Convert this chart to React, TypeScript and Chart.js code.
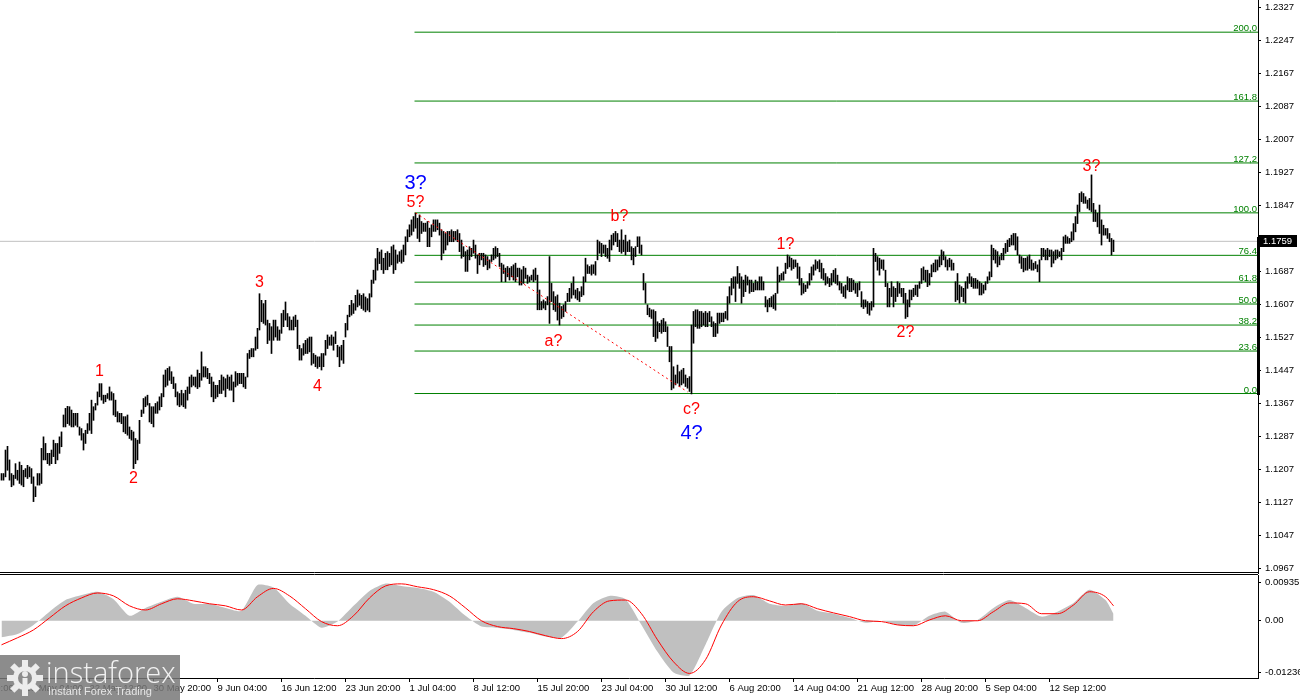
import React, { useEffect, useRef } from "react";
import { Chart, registerables } from "chart.js";
Chart.register(...registerables);

// ---------- DATA ----------
const highs = [
1.1196,1.1196,1.1253,1.1262,1.1229,1.1196,1.1192,1.1220,1.1204,1.1224,
1.1216,1.1204,1.1208,1.1216,1.1212,1.1208,1.1188,1.1164,1.1196,1.1196,
1.1257,1.1285,1.1269,1.1245,1.1245,1.1253,1.1277,1.1269,1.1269,1.1285,
1.1297,1.1338,1.1354,1.1359,1.1358,1.1350,1.1342,1.1342,1.1342,1.1309,
1.1305,1.1293,1.1301,1.1317,1.1342,1.1374,1.1358,1.1366,1.1394,1.1414,
1.1414,1.1386,1.1386,1.1390,1.1406,1.1394,1.1390,1.1374,1.1346,1.1342,
1.1342,1.1334,1.1334,1.1338,1.1309,1.1301,1.1297,1.1281,1.1277,1.1325,
1.1350,1.1378,1.1382,1.1386,1.1366,1.1358,1.1358,1.1366,1.1370,1.1382,
1.1390,1.1435,1.1447,1.1451,1.1455,1.1443,1.1430,1.1414,1.1394,1.1390,
1.1398,1.1390,1.1398,1.1406,1.1430,1.1435,1.1430,1.1430,1.1447,1.1439,
1.1491,1.1455,1.1455,1.1451,1.1439,1.1430,1.1418,1.1410,1.1410,1.1422,
1.1435,1.1430,1.1426,1.1435,1.1430,1.1435,1.1418,1.1443,1.1439,1.1439,
1.1439,1.1439,1.1430,1.1487,1.1495,1.1499,1.1499,1.1527,1.1548,1.1632,
1.1616,1.1608,1.1616,1.1568,1.1560,1.1552,1.1568,1.1568,1.1552,1.1544,
1.1584,1.1592,1.1612,1.1584,1.1576,1.1568,1.1576,1.1580,1.1568,1.1507,
1.1499,1.1511,1.1519,1.1523,1.1527,1.1527,1.1487,1.1483,1.1479,1.1479,
1.1487,1.1487,1.1519,1.1532,1.1527,1.1532,1.1527,1.1540,1.1507,1.1503,
1.1507,1.1519,1.1560,1.1580,1.1604,1.1616,1.1608,1.1628,1.1641,1.1632,
1.1628,1.1632,1.1624,1.1620,1.1632,1.1665,1.1689,1.1717,1.1742,1.1733,
1.1738,1.1718,1.1730,1.1734,1.1730,1.1746,1.1750,1.1738,1.1726,1.1734,
1.1738,1.1750,1.1770,1.1787,1.1799,1.1811,1.1819,1.1827,1.1815,1.1823,
1.1807,1.1803,1.1803,1.1807,1.1791,1.1799,1.1811,1.1811,1.1811,1.1803,
1.1787,1.1783,1.1778,1.1783,1.1783,1.1787,1.1783,1.1783,1.1787,1.1778,
1.1762,1.1746,1.1734,1.1738,1.1746,1.1742,1.1762,1.1750,1.1726,1.1730,
1.1730,1.1730,1.1726,1.1722,1.1714,1.1726,1.1742,1.1746,1.1742,1.1730,
1.1706,1.1702,1.1694,1.1698,1.1694,1.1698,1.1702,1.1706,1.1694,1.1694,
1.1690,1.1698,1.1694,1.1677,1.1673,1.1677,1.1690,1.1694,1.1677,1.1641,
1.1613,1.1617,1.1613,1.1625,1.1722,1.1657,1.1637,1.1625,1.1629,1.1609,
1.1601,1.1605,1.1613,1.1633,1.1645,1.1657,1.1673,1.1641,1.1645,1.1637,
1.1649,1.1673,1.1718,1.1702,1.1698,1.1702,1.1702,1.1710,1.1762,1.1758,
1.1754,1.1750,1.1750,1.1742,1.1762,1.1774,1.1778,1.1783,1.1778,1.1762,
1.1787,1.1762,1.1774,1.1758,1.1762,1.1746,1.1742,1.1746,1.1770,1.1770,
1.1750,1.1681,1.1657,1.1605,1.1597,1.1593,1.1593,1.1589,1.1564,1.1560,
1.1568,1.1572,1.1564,1.1552,1.1504,1.1504,1.1455,1.1435,1.1459,1.1443,
1.1447,1.1451,1.1435,1.1427,1.1431,1.1556,1.1589,1.1593,1.1593,1.1589,
1.1589,1.1585,1.1589,1.1585,1.1589,1.1576,1.1564,1.1560,1.1585,1.1585,
1.1585,1.1585,1.1589,1.1625,1.1649,1.1669,1.1673,1.1673,1.1698,1.1681,
1.1673,1.1665,1.1677,1.1673,1.1665,1.1665,1.1657,1.1665,1.1661,1.1673,
1.1673,1.1661,1.1625,1.1617,1.1621,1.1625,1.1629,1.1633,1.1697,1.1677,
1.1681,1.1685,1.1706,1.1726,1.1722,1.1718,1.1714,1.1714,1.1706,1.1697,
1.1669,1.1657,1.1653,1.1661,1.1681,1.1697,1.1702,1.1714,1.1710,1.1714,
1.1706,1.1693,1.1681,1.1673,1.1669,1.1681,1.1689,1.1693,1.1677,1.1661,
1.1657,1.1649,1.1653,1.1673,1.1669,1.1669,1.1665,1.1657,1.1657,1.1661,
1.1637,1.1617,1.1617,1.1613,1.1609,1.1613,1.1742,1.1730,1.1722,1.1718,
1.1714,1.1714,1.1689,1.1657,1.1645,1.1661,1.1649,1.1645,1.1661,1.1657,
1.1645,1.1645,1.1633,1.1617,1.1641,1.1641,1.1645,1.1653,1.1653,1.1661,
1.1693,1.1697,1.1689,1.1689,1.1681,1.1702,1.1706,1.1714,1.1714,1.1722,
1.1738,1.1734,1.1722,1.1714,1.1718,1.1714,1.1706,1.1661,1.1681,1.1653,
1.1649,1.1645,1.1661,1.1673,1.1681,1.1673,1.1669,1.1669,1.1665,1.1661,
1.1657,1.1653,1.1661,1.1673,1.1685,1.1750,1.1742,1.1738,1.1734,1.1722,
1.1730,1.1742,1.1754,1.1762,1.1766,1.1774,1.1778,1.1778,1.1770,1.1726,
1.1722,1.1718,1.1718,1.1722,1.1726,1.1714,1.1706,1.1710,1.1702,1.1714,
1.1742,1.1742,1.1738,1.1742,1.1738,1.1738,1.1734,1.1738,1.1738,1.1734,
1.1742,1.1770,1.1774,1.1770,1.1766,1.1782,1.1802,1.1819,1.1847,1.1875,
1.1879,1.1875,1.1867,1.1859,1.1863,1.1920,1.1851,1.1835,1.1827,1.1847,
1.1811,1.1798,1.1790,1.1790,1.1778,1.1766,1.1762
];

const lows = [
1.1180,1.1180,1.1188,1.1204,1.1180,1.1164,1.1168,1.1184,1.1180,1.1172,
1.1168,1.1164,1.1188,1.1184,1.1188,1.1172,1.1128,1.1140,1.1168,1.1168,
1.1172,1.1229,1.1229,1.1220,1.1216,1.1220,1.1237,1.1220,1.1229,1.1245,
1.1261,1.1309,1.1309,1.1317,1.1313,1.1309,1.1309,1.1313,1.1309,1.1289,
1.1277,1.1253,1.1269,1.1293,1.1301,1.1293,1.1325,1.1350,1.1362,1.1382,
1.1374,1.1366,1.1370,1.1378,1.1374,1.1374,1.1338,1.1334,1.1321,1.1321,
1.1317,1.1297,1.1293,1.1289,1.1281,1.1277,1.1208,1.1220,1.1229,1.1269,
1.1334,1.1342,1.1358,1.1362,1.1321,1.1317,1.1309,1.1342,1.1342,1.1350,
1.1358,1.1382,1.1406,1.1410,1.1422,1.1414,1.1402,1.1382,1.1362,1.1358,
1.1362,1.1358,1.1354,1.1374,1.1390,1.1406,1.1410,1.1406,1.1402,1.1406,
1.1422,1.1430,1.1430,1.1426,1.1414,1.1382,1.1370,1.1378,1.1382,1.1390,
1.1390,1.1398,1.1382,1.1402,1.1398,1.1398,1.1370,1.1406,1.1410,1.1414,
1.1414,1.1406,1.1402,1.1430,1.1475,1.1479,1.1479,1.1495,1.1499,1.1544,
1.1564,1.1560,1.1556,1.1511,1.1519,1.1487,1.1519,1.1527,1.1519,1.1519,
1.1536,1.1552,1.1568,1.1552,1.1544,1.1544,1.1544,1.1552,1.1499,1.1471,
1.1471,1.1483,1.1487,1.1487,1.1491,1.1459,1.1463,1.1455,1.1451,1.1455,
1.1447,1.1455,1.1483,1.1499,1.1507,1.1507,1.1495,1.1511,1.1479,1.1455,
1.1471,1.1463,1.1527,1.1544,1.1576,1.1580,1.1584,1.1592,1.1600,1.1604,
1.1596,1.1592,1.1588,1.1592,1.1588,1.1624,1.1657,1.1665,1.1689,1.1705,
1.1690,1.1681,1.1690,1.1690,1.1698,1.1702,1.1681,1.1690,1.1706,1.1710,
1.1706,1.1710,1.1726,1.1758,1.1770,1.1774,1.1783,1.1791,1.1766,1.1758,
1.1778,1.1783,1.1783,1.1746,1.1746,1.1770,1.1783,1.1783,1.1787,1.1774,
1.1714,1.1730,1.1738,1.1750,1.1758,1.1758,1.1758,1.1762,1.1758,1.1734,
1.1718,1.1722,1.1686,1.1686,1.1714,1.1722,1.1730,1.1718,1.1681,1.1702,
1.1714,1.1698,1.1702,1.1690,1.1694,1.1710,1.1714,1.1718,1.1722,1.1698,
1.1661,1.1681,1.1661,1.1673,1.1665,1.1673,1.1665,1.1661,1.1673,1.1653,
1.1653,1.1657,1.1669,1.1657,1.1661,1.1665,1.1661,1.1665,1.1593,1.1593,
1.1593,1.1597,1.1593,1.1605,1.1560,1.1613,1.1593,1.1589,1.1568,1.1556,
1.1572,1.1576,1.1589,1.1613,1.1613,1.1621,1.1629,1.1621,1.1617,1.1613,
1.1625,1.1629,1.1661,1.1681,1.1681,1.1677,1.1681,1.1677,1.1714,1.1730,
1.1722,1.1730,1.1722,1.1718,1.1710,1.1738,1.1750,1.1758,1.1746,1.1734,
1.1730,1.1734,1.1726,1.1734,1.1734,1.1714,1.1702,1.1722,1.1746,1.1730,
1.1726,1.1641,1.1609,1.1581,1.1576,1.1572,1.1528,1.1516,1.1524,1.1540,
1.1536,1.1540,1.1540,1.1504,1.1467,1.1399,1.1403,1.1411,1.1415,1.1407,
1.1411,1.1415,1.1407,1.1403,1.1395,1.1389,1.1512,1.1552,1.1548,1.1548,
1.1552,1.1556,1.1552,1.1552,1.1564,1.1552,1.1528,1.1528,1.1536,1.1560,
1.1564,1.1564,1.1572,1.1568,1.1609,1.1629,1.1645,1.1613,1.1657,1.1645,
1.1609,1.1625,1.1637,1.1653,1.1633,1.1637,1.1637,1.1641,1.1641,1.1641,
1.1641,1.1641,1.1600,1.1588,1.1600,1.1600,1.1596,1.1592,1.1633,1.1661,
1.1665,1.1665,1.1681,1.1693,1.1697,1.1689,1.1693,1.1697,1.1669,1.1653,
1.1629,1.1633,1.1637,1.1645,1.1653,1.1665,1.1677,1.1689,1.1693,1.1685,
1.1669,1.1665,1.1653,1.1657,1.1649,1.1653,1.1661,1.1657,1.1653,1.1641,
1.1633,1.1625,1.1621,1.1641,1.1637,1.1637,1.1641,1.1633,1.1625,1.1641,
1.1600,1.1596,1.1600,1.1584,1.1580,1.1592,1.1600,1.1710,1.1689,1.1677,
1.1693,1.1689,1.1649,1.1600,1.1600,1.1625,1.1600,1.1613,1.1625,1.1633,
1.1625,1.1609,1.1572,1.1576,1.1600,1.1617,1.1625,1.1629,1.1625,1.1645,
1.1657,1.1665,1.1661,1.1649,1.1653,1.1673,1.1685,1.1685,1.1689,1.1697,
1.1702,1.1714,1.1697,1.1689,1.1697,1.1689,1.1689,1.1613,1.1617,1.1609,
1.1625,1.1613,1.1609,1.1645,1.1657,1.1649,1.1645,1.1645,1.1645,1.1629,
1.1629,1.1633,1.1641,1.1657,1.1665,1.1673,1.1714,1.1706,1.1697,1.1702,
1.1714,1.1714,1.1730,1.1734,1.1746,1.1750,1.1750,1.1738,1.1726,1.1706,
1.1693,1.1685,1.1689,1.1689,1.1693,1.1689,1.1689,1.1693,1.1685,1.1661,
1.1714,1.1722,1.1714,1.1714,1.1722,1.1697,1.1706,1.1714,1.1718,1.1722,
1.1714,1.1734,1.1754,1.1754,1.1754,1.1758,1.1762,1.1782,1.1802,1.1831,
1.1855,1.1851,1.1851,1.1839,1.1835,1.1831,1.1807,1.1807,1.1794,1.1778,
1.1750,1.1774,1.1774,1.1766,1.1758,1.1726,1.1734
];

const lastPrice = 1.1759;
const lastPriceLabel = "1.1759";

const priceTicks = [1.2327, 1.2247, 1.2167, 1.2087, 1.2007, 1.1927, 1.1847, 1.1767, 1.1687,
  1.1607, 1.1527, 1.1447, 1.1367, 1.1287, 1.1207, 1.1127, 1.1047, 1.0967];

const fibLabels = ["0.0", "23.6", "38.2", "50.0", "61.8", "76.4", "100.0", "127,2", "161.8", "200,0"];
const fibPrices = [1.1390, 1.1493, 1.1556, 1.1607, 1.1660, 1.1725, 1.1828, 1.1949, 1.2099, 1.2266];
const fibStartBar = 206.5;

const dashBars = [207, 343];
const dashPrices = [1.1828, 1.1394];

const waveTexts = ["1", "2", "3", "4", "5?", "3?", "a?", "b?", "c?", "4?", "1?", "2?", "3?"];
const waveBars = [49, 66, 129, 158, 207, 207, 276, 309, 345, 345, 392, 452, 545];
const wavePrices = [1.1442, 1.1183, 1.1658, 1.1406, 1.1852, 1.1898, 1.1517, 1.1818, 1.1352, 1.1292, 1.1750, 1.1537, 1.1939];
const waveMajor = [false, false, false, false, false, true, false, false, false, true, false, false, false];

const dateLabels = ["7 May 20:00", "15 May 04:00", "22 May 12:00", "30 May 20:00", "9 Jun 04:00",
  "16 Jun 12:00", "23 Jun 20:00", "1 Jul 04:00", "8 Jul 12:00", "15 Jul 20:00", "23 Jul 04:00",
  "30 Jul 12:00", "6 Aug 20:00", "14 Aug 04:00", "21 Aug 12:00", "28 Aug 20:00", "5 Sep 04:00", "12 Sep 12:00"];
const dateBars = [-20, 12, 44, 76, 108, 140, 172, 204, 236, 268, 300, 332, 364, 396, 428, 460, 492, 524];

const macdBars = [0,8,16,24,32,40,48,56,64,72,80,88,96,104,112,120,128,136,144,152,160,168,176,184,192,200,
  208,216,224,232,240,248,256,264,272,280,288,296,304,312,320,328,336,344,352,360,368,376,384,392,400,408,
  416,424,432,440,448,456,464,472,480,488,496,504,512,520,528,536,544,552,556];
const macdHist = [
-0.0040,-0.0032,-0.0010,0.0022,0.0050,0.0062,0.0070,0.0052,0.0012,0.0031,
0.0046,0.0058,0.0041,0.0041,0.0031,0.0024,0.0086,0.0080,0.0041,0.0012,
-0.0017,-0.0002,0.0036,0.0072,0.0090,0.0084,0.0079,0.0070,0.0046,0.0012,
-0.0014,-0.0017,-0.0022,-0.0029,-0.0038,-0.0041,-0.0002,0.0043,0.0060,0.0052,
-0.0010,-0.0075,-0.0125,-0.0132,-0.0058,0.0022,0.0055,0.0062,0.0041,0.0036,
0.0043,0.0024,0.0017,0.0007,-0.0005,0.0000,-0.0010,-0.0012,0.0012,0.0022,
-0.0005,0.0002,0.0031,0.0050,0.0031,0.0010,0.0022,0.0043,0.0075,0.0050,
0.0017];
const macdSignal = [
-0.0058,-0.0041,-0.0022,0.0007,0.0036,0.0055,0.0067,0.0060,0.0036,0.0026,
0.0041,0.0053,0.0048,0.0041,0.0036,0.0026,0.0058,0.0078,0.0060,0.0029,
-0.0002,-0.0012,0.0012,0.0055,0.0084,0.0089,0.0082,0.0075,0.0060,0.0031,
0.0000,-0.0014,-0.0019,-0.0026,-0.0036,-0.0043,-0.0026,0.0022,0.0048,0.0050,
0.0017,-0.0046,-0.0099,-0.0127,-0.0094,-0.0010,0.0046,0.0058,0.0048,0.0038,
0.0041,0.0029,0.0019,0.0010,0.0000,-0.0002,-0.0010,-0.0012,0.0002,0.0012,
0.0000,0.0000,0.0022,0.0043,0.0041,0.0017,0.0017,0.0038,0.0070,0.0058,
0.0036];
const macdTicks = [0.00935, 0, -0.01236];
const macdTickLabels = ["0.00935", "0.00", "-0.01236"];

// ---------- LAYOUT / STYLE ----------
const X_MIN = -0.75;
const X_MAX = 628.25;
const Y_MAX = 1.2344;
const Y_MIN = 1.09525;
const M_MAX = 0.011039;
const M_MIN = -0.013807;
const AXIS_W = 42;
const FONT_FAMILY = "'Liberation Sans', Arial, sans-serif";
const SMALL = { family: FONT_FAMILY, size: 9.5 };

function mainConfig(): any {
  const overlay = {
    id: "overlay",
    afterDatasetsDraw(chart: any) {
      const { ctx, chartArea: a, scales } = chart;
      const y = scales.y, x = scales.x;
      ctx.save();
      ctx.font = `9.5px ${FONT_FAMILY}`;
      ctx.fillStyle = "#008000";
      ctx.textAlign = "right";
      ctx.textBaseline = "alphabetic";
      fibPrices.forEach((p, i) => {
        ctx.fillText(fibLabels[i], a.right - 1, Math.round(y.getPixelForValue(p)) - 1);
      });
      ctx.textAlign = "center";
      ctx.textBaseline = "middle";
      waveTexts.forEach((t, i) => {
        ctx.font = waveMajor[i] ? `20px ${FONT_FAMILY}` : `16px ${FONT_FAMILY}`;
        ctx.fillStyle = waveMajor[i] ? "#0000FF" : "#FF0000";
        ctx.fillText(t, x.getPixelForValue(waveBars[i]), y.getPixelForValue(wavePrices[i]));
      });
      ctx.strokeStyle = "#000";
      ctx.lineWidth = 1;
      ctx.beginPath();
      ctx.moveTo(0, a.bottom - 1.5);
      ctx.lineTo(a.right, a.bottom - 1.5);
      ctx.stroke();
      ctx.restore();
    },
    afterDraw(chart: any) {
      const { ctx, chartArea: a, scales } = chart;
      const y = scales.y;
      const yy = Math.round(y.getPixelForValue(lastPrice));
      const y0 = Math.round(y.getPixelForValue(fibPrices[0]));
      ctx.save();
      ctx.fillStyle = "#000";
      ctx.fillRect(a.right - 1, yy - 4, 3, y0 - yy + 5);
      ctx.fillRect(a.right + 1, yy - 6, 38, 12);
      ctx.fillStyle = "#fff";
      ctx.font = `9.5px ${FONT_FAMILY}`;
      ctx.textAlign = "left";
      ctx.textBaseline = "middle";
      ctx.fillText(lastPriceLabel, a.right + 5, yy);
      ctx.restore();
    },
  };

  const datasets: any[] = [
    {
      type: "bar",
      data: highs.map((h, i) => ({ x: i, y: [lows[i], h] })),
      backgroundColor: "#000",
      borderWidth: 0,
      barThickness: 1,
      order: 1,
    },
    {
      type: "line",
      data: dashBars.map((b, i) => ({ x: b, y: dashPrices[i] })),
      borderColor: "#FF0000",
      borderWidth: 1,
      borderDash: [2, 3],
      pointRadius: 0,
      order: 0,
    },
    ...fibPrices.map((p) => ({
      type: "line",
      data: [{ x: fibStartBar, y: p }, { x: X_MAX, y: p }],
      borderColor: "#008000",
      borderWidth: 1,
      pointRadius: 0,
      order: 2,
    })),
    {
      type: "line",
      data: [{ x: X_MIN, y: lastPrice }, { x: X_MAX, y: lastPrice }],
      borderColor: "#C0C0C0",
      borderWidth: 1,
      pointRadius: 0,
      order: 3,
    },
  ];

  return {
    type: "bar",
    data: { datasets },
    options: {
      animation: false,
      responsive: false,
      events: [],
      layout: { padding: 0 },
      plugins: { legend: { display: false }, tooltip: { enabled: false } },
      scales: {
        x: { type: "linear", min: X_MIN, max: X_MAX, display: false, offset: false },
        y: {
          type: "linear",
          position: "right",
          min: Y_MIN,
          max: Y_MAX,
          afterFit: (s: any) => { s.width = AXIS_W; s.paddingTop = 0; s.paddingBottom = 0; },
          afterBuildTicks: (s: any) => { s.ticks = priceTicks.map((v) => ({ value: v })); },
          ticks: { callback: (v: any) => Number(v).toFixed(4), font: SMALL, color: "#000", padding: 4, autoSkip: false },
          grid: { drawOnChartArea: false, drawTicks: true, tickLength: 3, color: "#000" },
          border: { display: true, color: "#000", width: 1 },
        },
      },
    },
    plugins: [overlay],
  };
}

function macdConfig(): any {
  const frame = {
    id: "frame",
    afterDraw(chart: any) {
      const { ctx, chartArea: a } = chart;
      ctx.save();
      ctx.strokeStyle = "#000";
      ctx.lineWidth = 1;
      ctx.beginPath();
      ctx.moveTo(0, 0.5);
      ctx.lineTo(a.right, 0.5);
      ctx.stroke();
      ctx.restore();
    },
  };
  return {
    type: "line",
    data: {
      datasets: [
        {
          data: macdBars.map((b, i) => ({ x: b, y: macdHist[i] })),
          fill: "origin",
          backgroundColor: "#C0C0C0",
          borderWidth: 0,
          pointRadius: 0,
          tension: 0.2,
          order: 2,
        },
        {
          data: macdBars.map((b, i) => ({ x: b, y: macdSignal[i] })),
          borderColor: "#FF0000",
          borderWidth: 1,
          pointRadius: 0,
          cubicInterpolationMode: "monotone",
          fill: false,
          order: 1,
        },
      ],
    },
    options: {
      animation: false,
      responsive: false,
      events: [],
      layout: { padding: { top: 1, left: 0, right: 0, bottom: 0 } },
      plugins: { legend: { display: false }, tooltip: { enabled: false } },
      scales: {
        x: {
          type: "linear",
          min: X_MIN,
          max: X_MAX,
          position: "bottom",
          offset: false,
          afterFit: (s: any) => { s.height = 22; s.paddingLeft = 0; s.paddingRight = 0; },
          afterBuildTicks: (s: any) => { s.ticks = dateBars.map((v) => ({ value: v })); },
          ticks: {
            autoSkip: false,
            maxRotation: 0,
            minRotation: 0,
            align: "start",
            padding: 1,
            font: SMALL,
            color: "#000",
            callback: (_v: any, i: number) => dateLabels[i],
          },
          grid: { drawOnChartArea: false, drawTicks: true, tickLength: 4, color: "#000" },
          border: { display: true, color: "#000", width: 1 },
        },
        y: {
          type: "linear",
          position: "right",
          min: M_MIN,
          max: M_MAX,
          afterFit: (s: any) => { s.width = AXIS_W; s.paddingTop = 0; s.paddingBottom = 0; },
          afterBuildTicks: (s: any) => { s.ticks = macdTicks.map((v) => ({ value: v })); },
          ticks: { callback: (_v: any, i: number) => macdTickLabels[i], font: SMALL, color: "#000", padding: 4, autoSkip: false },
          grid: { drawOnChartArea: false, drawTicks: true, tickLength: 3, color: "#000" },
          border: { display: true, color: "#000", width: 1 },
        },
      },
    },
    plugins: [frame],
  };
}

function Gear() {
  const teeth = [0, 45, 90, 135, 180, 225, 270, 315];
  return (
    <svg width="40" height="40" viewBox="0 0 40 40" style={{ position: "absolute", left: 5, top: 3 }}>
      {teeth.map((a) => (
        <rect key={a} x="17" y="2" width="6" height="8" fill="#ececec" transform={`rotate(${a} 20 20)`} />
      ))}
      <circle cx="20" cy="20" r="12" fill="#ececec" />
      <circle cx="20" cy="20" r="7" fill="#8c8c8c" />
      <circle cx="20" cy="16" r="3" fill="#ececec" />
      <rect x="17.5" y="20" width="5" height="11" fill="#ececec" />
    </svg>
  );
}

export default function App() {
  const mainRef = useRef<HTMLCanvasElement>(null);
  const macdRef = useRef<HTMLCanvasElement>(null);

  useEffect(() => {
    const c1 = new Chart(mainRef.current as HTMLCanvasElement, mainConfig());
    const c2 = new Chart(macdRef.current as HTMLCanvasElement, macdConfig());
    return () => {
      c1.destroy();
      c2.destroy();
    };
  }, []);

  return (
    <div style={{ position: "fixed", left: 0, top: 0, width: 1300, height: 700, background: "#fff", overflow: "hidden" }}>
      <canvas ref={mainRef} width={1300} height={574} style={{ position: "absolute", left: 0, top: 0, width: 1300, height: 574 }} />
      <canvas ref={macdRef} width={1300} height={126} style={{ position: "absolute", left: 0, top: 574, width: 1300, height: 126 }} />
      <div style={{ position: "absolute", left: 0, top: 655, width: 180, height: 45, background: "rgba(120,120,120,0.85)" }}>
        <Gear />
        <div style={{ position: "absolute", left: 46, top: 2, fontFamily: "'Open Sans', 'Liberation Sans', sans-serif", fontSize: 29, fontWeight: 300, color: "#f2f2f2", lineHeight: "30px", letterSpacing: 0 }}>
          instaforex
        </div>
        <div style={{ position: "absolute", left: 48, top: 30, fontFamily: "'Liberation Sans', Arial, sans-serif", fontSize: 11, color: "#e6e6e6", lineHeight: "13px" }}>
          Instant Forex Trading
        </div>
      </div>
    </div>
  );
}
